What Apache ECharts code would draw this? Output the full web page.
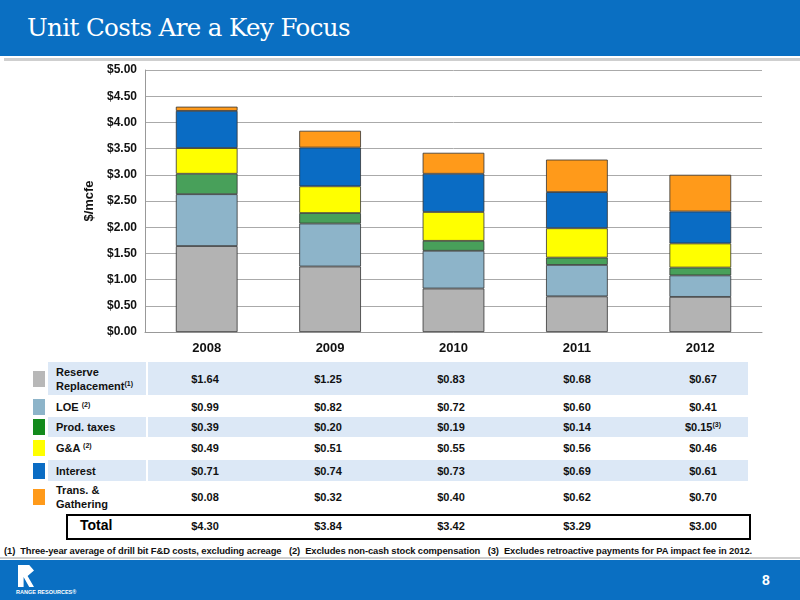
<!DOCTYPE html>
<html><head><meta charset="utf-8">
<script src="https://cdn.jsdelivr.net/npm/echarts@6/dist/echarts.min.js"></script>
<style>
body{margin:0;width:800px;height:600px;position:relative;overflow:hidden;background:#fff;font-family:"Liberation Sans",Arial,sans-serif;}
#head{position:absolute;left:0;top:0;width:800px;height:56px;background:#0a6fc2;}
#head span{position:absolute;left:27px;top:13px;color:#fff;font:24.5px "DejaVu Serif",serif;letter-spacing:-0.6px;}
#hline{position:absolute;left:4px;top:58px;width:796px;height:3px;background:#cfcfcf;}
#chart{position:absolute;left:0;top:60px;width:800px;height:300px;}
.band{position:absolute;left:48px;width:700px;background:#dce8f6;}
.sw{position:absolute;left:33px;width:12px;}
.lab{position:absolute;left:56px;font-weight:bold;font-size:11px;line-height:14px;color:#111;}
.val{position:absolute;font-weight:bold;font-size:11px;line-height:14px;color:#111;transform:translateX(-50%);white-space:nowrap;}
sup{font-size:7px;line-height:0;vertical-align:4px;}
#total{position:absolute;left:66px;top:514px;width:681px;height:22px;border:2px solid #000;}
#foot{position:absolute;left:4px;top:545px;font-size:9.4px;font-weight:bold;color:#111;white-space:nowrap;letter-spacing:-0.1px;}
#fline{position:absolute;left:0;top:557px;width:800px;height:2px;background:#cfcfcf;}
#fb{position:absolute;left:0;top:560px;width:800px;height:40px;background:#0a6fc2;}
</style></head><body>
<div id="head"><span>Unit Costs Are a Key Focus</span></div>
<div id="hline"></div>
<div id="chart"></div>
<div id="table"></div>
<div id="foot">(1)&nbsp; Three-year average of drill bit F&amp;D costs, excluding acreage &nbsp; (2)&nbsp; Excludes non-cash stock compensation &nbsp; (3)&nbsp; Excludes retroactive payments for PA impact fee in 2012.</div>
<div id="fline"></div>
<div id="fb">
  <div style="position:absolute;left:18px;top:5px;width:16px;height:22px;background:#fff;clip-path:polygon(0 0,70% 0,100% 25%,60% 50%,100% 100%,70% 100%,35% 55%,35% 100%,0 100%);"></div>
  <div style="position:absolute;left:16px;top:29px;color:#fff;font-size:5.5px;font-weight:bold;">RANGE RESOURCES®</div>
  <div style="position:absolute;left:762px;top:12px;color:#fff;font-size:14px;font-weight:bold;">8</div>
</div>
<script>
const years = ['2008', '2009', '2010', '2011', '2012'];
const reserve = [1.64, 1.25, 0.83, 0.68, 0.67];
const loe = [0.99, 0.82, 0.72, 0.60, 0.41];
const prodTaxes = [0.39, 0.20, 0.19, 0.14, 0.15];
const gna = [0.49, 0.51, 0.55, 0.56, 0.46];
const interest = [0.71, 0.74, 0.73, 0.69, 0.61];
const transport = [0.08, 0.32, 0.40, 0.62, 0.70];
const totals = [4.30, 3.84, 3.42, 3.29, 3.00];
const yTicks = [0, 0.5, 1, 1.5, 2, 2.5, 3, 3.5, 4, 4.5, 5];

const seriesDefs = [
  {name: 'Reserve<br>Replacement<sup>(1)</sup>', data: reserve, bar: '#b3b3b3', sw: '#b8b8b8'},
  {name: 'LOE <sup>(2)</sup>', data: loe, bar: '#8db4c9', sw: '#8db4c9'},
  {name: 'Prod. taxes', data: prodTaxes, bar: '#48a05a', sw: '#138a1c'},
  {name: 'G&amp;A <sup>(2)</sup>', data: gna, bar: '#ffff00', sw: '#ffff00'},
  {name: 'Interest', data: interest, bar: '#0a6cc4', sw: '#0a6cc4'},
  {name: 'Trans. &amp;<br>Gathering', data: transport, bar: '#ff9a1a', sw: '#ff9a1a'}
];

let chart = echarts.init(document.querySelector('#chart'));
chart.setOption({
  animation: false,
  grid: {left: 145, right: 38, top: 10, bottom: 28},
  xAxis: {
    type: 'category', data: years,
    axisLine: {lineStyle: {color: '#999'}}, axisTick: {show: false},
    axisLabel: {color: '#111', fontWeight: 'bold', fontSize: 13, margin: 10}
  },
  yAxis: {
    type: 'value', min: 0, max: 5, interval: 0.5,
    name: '$/mcfe', nameLocation: 'middle', nameGap: 42, nameRotate: 90,
    nameTextStyle: {color: '#111', fontWeight: 'bold', fontSize: 13},
    axisLine: {show: true, lineStyle: {color: '#999'}},
    axisLabel: {color: '#111', fontWeight: 'bold', fontSize: 12,
      formatter: v => yTicks.includes(v) ? '$' + v.toFixed(2) : ''},
    splitLine: {lineStyle: {color: '#aaa'}}
  },
  series: seriesDefs.map(s => ({
    type: 'bar', stack: 'cost', data: s.data, barWidth: '50%',
    itemStyle: {color: s.bar, borderColor: '#333', borderWidth: 0.8}
  }))
});

// table
const rows = [[362, 33], [397, 20], [417, 20], [438, 20], [460, 21], [483, 27]];
const colX = [205, 328, 451, 577, 703];
let html = '';
seriesDefs.forEach((s, i) => {
  const [top, h] = rows[i];
  if (i % 2 === 0) {
    html += `<div class="band" style="top:${top}px;height:${h}px"></div>`;
    html += `<div style="position:absolute;left:146px;top:${top}px;width:2px;height:${h}px;background:#fff"></div>`;
  }
  html += `<div class="sw" style="top:${top + h / 2 - 8}px;height:16px;background:${s.sw}"></div>`;
  const lines = s.name.includes('<br>') ? 2 : 1;
  html += `<div class="lab" style="top:${top + h / 2 - lines * 7}px">${s.name}</div>`;
  s.data.forEach((v, j) => {
    const sup = (i === 2 && j === 4) ? '<sup>(3)</sup>' : '';
    html += `<div class="val" style="left:${colX[j]}px;top:${top + h / 2 - 7}px">$${v.toFixed(2)}${sup}</div>`;
  });
});
html += '<div id="total"></div>';
html += '<div style="position:absolute;left:80px;top:517px;font-weight:bold;font-size:14px;">Total</div>';
totals.forEach((v, j) => {
  html += `<div class="val" style="left:${colX[j]}px;top:519px">$${v.toFixed(2)}</div>`;
});
document.querySelector('#table').innerHTML = html;
</script>
</body></html>
